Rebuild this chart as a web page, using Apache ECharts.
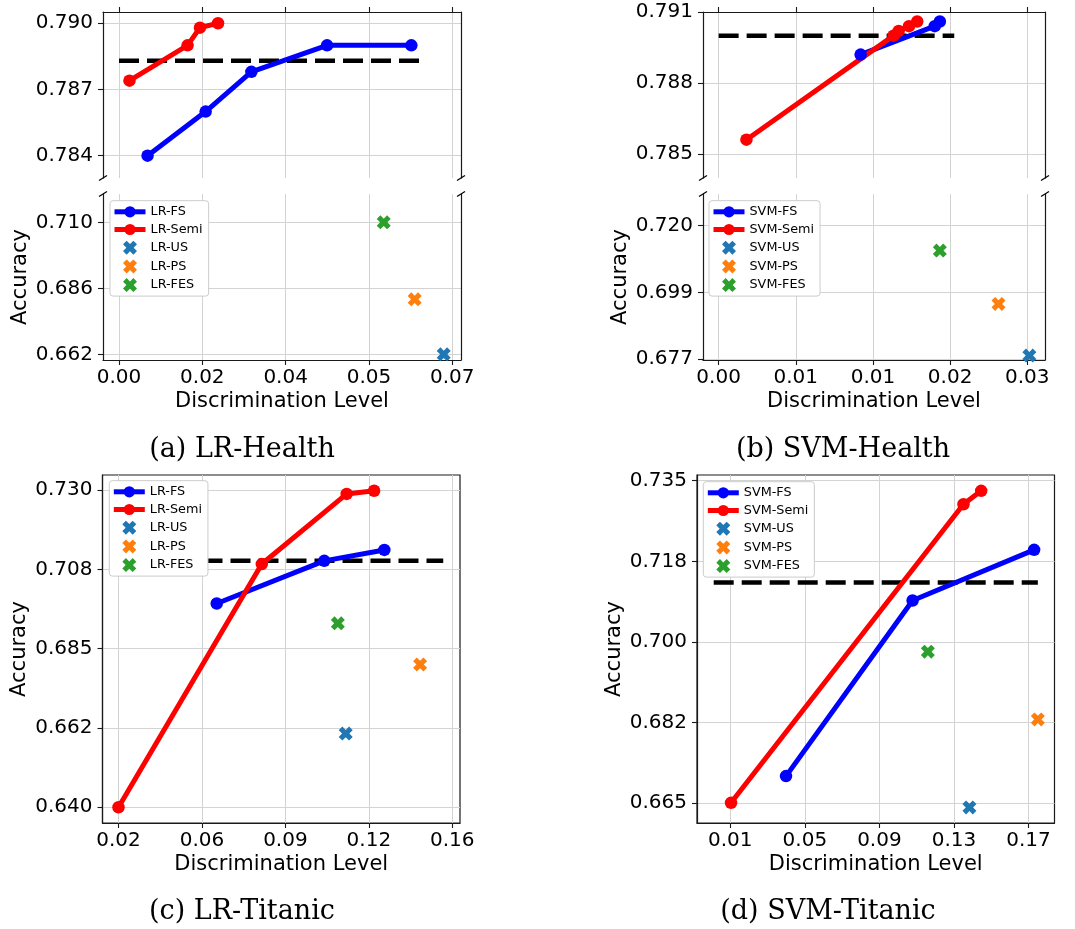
<!DOCTYPE html>
<html>
<head>
<meta charset="utf-8">
<script src="https://cdn.jsdelivr.net/npm/echarts@6/dist/echarts.min.js"></script>
<style>
html, body { margin: 0; padding: 0; background: #fff; }
#chart { width: 1075px; height: 929px; }
</style>
</head>
<body>
<div id="chart"></div>
<script>
// ---------- data ----------
// (a) LR-Health
const aFsDisc = [0.0060, 0.0182, 0.0278, 0.0437, 0.0614];
const aFsAcc = [0.7840, 0.7860, 0.7878, 0.7890, 0.7890];
const aSemiDisc = [0.0022, 0.0144, 0.0170, 0.0208];
const aSemiAcc = [0.7874, 0.7890, 0.7898, 0.7900];
const aUs = [0.0682, 0.6620];
const aPs = [0.0621, 0.6820];
const aFes = [0.0556, 0.7100];
const aBaseline = [0.7883, 0.0, 0.0636]; // accuracy, from, to
const aXTicks = [0, 0.0175, 0.035, 0.0525, 0.07];
const aXLabels = ['0.00', '0.02', '0.04', '0.05', '0.07'];
const aTopTicks = [0.784, 0.787, 0.790];
const aTopLabels = ['0.784', '0.787', '0.790'];
const aLowTicks = [0.662, 0.686, 0.710];
const aLowLabels = ['0.662', '0.686', '0.710'];

// (b) SVM-Health
const bFsDisc = [0.0138, 0.0210, 0.0215];
const bFsAcc = [0.7892, 0.7904, 0.7906];
const bSemiDisc = [0.0027, 0.0170, 0.0175, 0.0185, 0.0193];
const bSemiAcc = [0.7856, 0.7900, 0.7902, 0.7904, 0.7906];
const bUs = [0.0302, 0.6782];
const bPs = [0.0272, 0.6948];
const bFes = [0.0215, 0.7120];
const bBaseline = [0.7900, 0.0, 0.0229];
const bXTicks = [0, 0.0075, 0.015, 0.0225, 0.03];
const bXLabels = ['0.00', '0.01', '0.01', '0.02', '0.03'];
const bTopTicks = [0.785, 0.788, 0.791];
const bTopLabels = ['0.785', '0.788', '0.791'];
const bLowTicks = [0.677, 0.6985, 0.720];
const bLowLabels = ['0.677', '0.699', '0.720'];

// (c) LR-Titanic
const cFsDisc = [0.0612, 0.1063, 0.1315];
const cFsAcc = [0.6978, 0.7099, 0.7130];
const cSemiDisc = [0.0200, 0.0801, 0.1157, 0.1272];
const cSemiAcc = [0.6400, 0.7090, 0.7289, 0.7298];
const cUs = [0.1153, 0.6609];
const cPs = [0.1465, 0.6805];
const cFes = [0.1120, 0.6922];
const cBaseline = [0.7099, 0.0200, 0.1562];
const cXTicks = [0.02, 0.055, 0.09, 0.125, 0.16];
const cXLabels = ['0.02', '0.06', '0.09', '0.12', '0.16'];
const cYTicks = [0.64, 0.6625, 0.685, 0.7075, 0.73];
const cYLabels = ['0.640', '0.662', '0.685', '0.708', '0.730'];

// (d) SVM-Titanic
const dFsDisc = [0.0399, 0.1078, 0.1730];
const dFsAcc = [0.6709, 0.7090, 0.7200];
const dSemiDisc = [0.0104, 0.1351, 0.1446];
const dSemiAcc = [0.6651, 0.7299, 0.7328];
const dUs = [0.1383, 0.6641];
const dPs = [0.1750, 0.6832];
const dFes = [0.1160, 0.6979];
const dBaseline = [0.7129, 0.0011, 0.1750];
const dXTicks = [0.01, 0.05, 0.09, 0.13, 0.17];
const dXLabels = ['0.01', '0.05', '0.09', '0.13', '0.17'];
const dYTicks = [0.665, 0.6825, 0.70, 0.7175, 0.735];
const dYLabels = ['0.665', '0.682', '0.700', '0.718', '0.735'];

// ---------- layout ----------
const grids = [
    { left: 103, top: 12, width: 358, height: 166 },   // 0 (a) upper
    { left: 103, top: 194, width: 358, height: 166 },  // 1 (a) lower
    { left: 703, top: 12, width: 342, height: 166 },   // 2 (b) upper
    { left: 703, top: 194, width: 342, height: 166 },  // 3 (b) lower
    { left: 102.5, top: 475, width: 357.5, height: 348 }, // 4 (c)
    { left: 697, top: 475, width: 357.5, height: 348 },   // 5 (d)
]
const xRanges = [[-0.00336, 0.07183], [-0.00336, 0.07183], [-0.00152, 0.03172], [-0.00152, 0.03172], [0.01329, 0.16323], [-0.00786, 0.18394]]
const yRanges = [[0.78299, 0.79051], [0.65993, 0.72029], [0.78398, 0.7910], [0.67677, 0.7302], [0.63554, 0.73426], [0.66072, 0.73624]]

const FONT = 'DejaVu Sans'
const SPINE = '#1a1a1a'
const GRIDLINE = '#d3d3d3'
// filled "X" marker, like matplotlib's 'X'
const XMARK = 'path://M0,2.6 L2.6,0 L5,2.4 L7.4,0 L10,2.6 L7.6,5 L10,7.4 L7.4,10 L5,7.6 L2.6,10 L0,7.4 L2.4,5 Z'

const pick = (ticks, labels) => v => {
    for (let i = 0; i < ticks.length; i++) {
        if (Math.abs(ticks[i] - v) < 1e-9) return labels[i]
    }
    return ''
}

const makeX = (g, ticks, labels, top) => ({
    type: 'value', gridIndex: g, min: xRanges[g][0], max: xRanges[g][1],
    position: top ? 'top' : 'bottom',
    name: top ? '' : 'Discrimination Level',
    nameLocation: 'middle', nameGap: 31,
    nameTextStyle: { fontFamily: FONT, fontSize: 21, color: '#000' },
    axisLine: { show: true, onZero: false, lineStyle: { color: SPINE, width: 1.2 } },
    axisTick: { show: true, inside: false, length: 5, customValues: ticks, lineStyle: { color: SPINE, width: 1.1 } },
    axisLabel: { show: !top, customValues: ticks, formatter: pick(ticks, labels), margin: 8, fontFamily: FONT, fontSize: 20, color: '#000' },
    splitLine: { show: true, lineStyle: { color: GRIDLINE, width: 1 } },
})

const makeY = (g, ticks, labels, named) => ({
    type: 'value', gridIndex: g, min: yRanges[g][0], max: yRanges[g][1],
    position: 'left',
    name: named ? 'Accuracy' : '',
    nameLocation: 'middle', nameRotate: 90, nameGap: 72,
    nameTextStyle: { fontFamily: FONT, fontSize: 21, color: '#000' },
    axisLine: { show: true, onZero: false, lineStyle: { color: SPINE, width: 1.2 } },
    axisTick: { show: true, inside: false, length: 5, customValues: ticks, lineStyle: { color: SPINE, width: 1.1 } },
    axisLabel: { show: true, customValues: ticks, formatter: pick(ticks, labels), margin: 10, fontFamily: FONT, fontSize: 20, color: '#000' },
    splitLine: { show: true, lineStyle: { color: GRIDLINE, width: 1 } },
})

// right spine only
const rightSpine = g => ({
    type: 'value', gridIndex: g, min: yRanges[g][0], max: yRanges[g][1], position: 'right',
    axisLine: { show: true, onZero: false, lineStyle: { color: SPINE, width: 1.2 } },
    axisTick: { show: false }, axisLabel: { show: false }, splitLine: { show: false },
})

const pts = (xs, ys) => xs.map((x, i) => [x, ys[i]])

const lineSeries = (name, color, xs, ys, g) => ({
    name, type: 'line', xAxisIndex: g, yAxisIndex: g, data: pts(xs, ys),
    symbol: 'circle', symbolSize: 12.5, showSymbol: true,
    lineStyle: { color, width: 5, join: 'round' }, itemStyle: { color },
    z: 3,
})
const baseSeries = (id, b, g) => ({
    name: id, type: 'line', xAxisIndex: g, yAxisIndex: g,
    data: [[b[1], b[0]], [b[2], b[0]]], symbol: 'none',
    lineStyle: { color: '#000', width: 4.5, type: [20, 8] }, z: 2,
})
const markSeries = (name, color, p, g) => ({
    name, type: 'scatter', xAxisIndex: g, yAxisIndex: g, data: [p],
    symbol: XMARK, symbolSize: 14, itemStyle: { color, opacity: 1 }, z: 4,
})

const BLUE = '#0000ff', RED = '#ff0000', C_US = '#1f77b4', C_PS = '#ff7f0e', C_FES = '#2ca02c'

const series = [
    baseSeries('base-a', aBaseline, 0),
    lineSeries('LR-FS', BLUE, aFsDisc, aFsAcc, 0),
    lineSeries('LR-Semi', RED, aSemiDisc, aSemiAcc, 0),
    markSeries('LR-US', C_US, aUs, 1),
    markSeries('LR-PS', C_PS, aPs, 1),
    markSeries('LR-FES', C_FES, aFes, 1),

    baseSeries('base-b', bBaseline, 2),
    lineSeries('SVM-FS', BLUE, bFsDisc, bFsAcc, 2),
    lineSeries('SVM-Semi', RED, bSemiDisc, bSemiAcc, 2),
    markSeries('SVM-US', C_US, bUs, 3),
    markSeries('SVM-PS', C_PS, bPs, 3),
    markSeries('SVM-FES', C_FES, bFes, 3),

    baseSeries('base-c', cBaseline, 4),
    lineSeries('LR-FS', BLUE, cFsDisc, cFsAcc, 4),
    lineSeries('LR-Semi', RED, cSemiDisc, cSemiAcc, 4),
    markSeries('LR-US', C_US, cUs, 4),
    markSeries('LR-PS', C_PS, cPs, 4),
    markSeries('LR-FES', C_FES, cFes, 4),

    baseSeries('base-d', dBaseline, 5),
    lineSeries('SVM-FS', BLUE, dFsDisc, dFsAcc, 5),
    lineSeries('SVM-Semi', RED, dSemiDisc, dSemiAcc, 5),
    markSeries('SVM-US', C_US, dUs, 5),
    markSeries('SVM-PS', C_PS, dPs, 5),
    markSeries('SVM-FES', C_FES, dFes, 5),
]

const lrNames = ['LR-FS', 'LR-Semi', 'LR-US', 'LR-PS', 'LR-FES']
const svmNames = ['SVM-FS', 'SVM-Semi', 'SVM-US', 'SVM-PS', 'SVM-FES']
const legendAt = (left, top, names) => ({
    orient: 'vertical', left, top, data: names, selectedMode: false,
    itemWidth: 31, itemHeight: 14, itemGap: 4.7, padding: [4.6, 6, 4, 2],
    backgroundColor: '#ffffff', borderColor: '#cccccc', borderWidth: 1, borderRadius: 3,
    lineStyle: { width: 5 },
    textStyle: { fontFamily: FONT, fontSize: 12.8, color: '#000' },
})

// diagonal break marks of the split axes
const brk = (x, y) => ({
    type: 'line', z: 10,
    shape: { x1: x - 4, y1: y + 2.5, x2: x + 4, y2: y - 2.5 },
    style: { stroke: '#000', lineWidth: 1.2 },
})
const breakMarks = []
;[[0, 1], [2, 3]].forEach(([u, l]) => {
    const gu = grids[u], gl = grids[l]
    const yu = gu.top + gu.height, yl = gl.top
    ;[gu.left, gu.left + gu.width].forEach(x => {
        breakMarks.push(brk(x, yu), brk(x, yl))
    })
})
const caption = (text, x, y) => ({
    type: 'text', x, y,
    style: { text, font: '27px "DejaVu Serif"', fill: '#000', textAlign: 'center', textVerticalAlign: 'middle' },
})

const chart = echarts.init(document.getElementById('chart'))
const option = {
    animation: false,
    backgroundColor: '#fff',
    grid: grids.map((g, i) => Object.assign({}, g, i >= 4 ? { show: true, borderColor: SPINE, borderWidth: 1.2 } : {})),
    xAxis: [
        makeX(0, aXTicks, aXLabels, true),
        makeX(1, aXTicks, aXLabels, false),
        makeX(2, bXTicks, bXLabels, true),
        makeX(3, bXTicks, bXLabels, false),
        makeX(4, cXTicks, cXLabels, false),
        makeX(5, dXTicks, dXLabels, false),
    ],
    yAxis: [
        makeY(0, aTopTicks, aTopLabels, false),
        makeY(1, aLowTicks, aLowLabels, true),
        makeY(2, bTopTicks, bTopLabels, false),
        makeY(3, bLowTicks, bLowLabels, true),
        makeY(4, cYTicks, cYLabels, true),
        makeY(5, dYTicks, dYLabels, true),
        rightSpine(0), rightSpine(1), rightSpine(2), rightSpine(3),
    ],
    legend: [
        legendAt(110, 200.7, lrNames),
        legendAt(709, 200.7, svmNames),
        legendAt(109.3, 480.7, lrNames),
        legendAt(703.3, 481.7, svmNames),
    ],
    series,
    graphic: breakMarks.concat([
        caption('(a) LR-Health', 242, 450),
        caption('(b) SVM-Health', 843, 450),
        caption('(c) LR-Titanic', 242, 912),
        caption('(d) SVM-Titanic', 828, 912),
    ]),
}
chart.setOption(option)
</script>
</body>
</html>
